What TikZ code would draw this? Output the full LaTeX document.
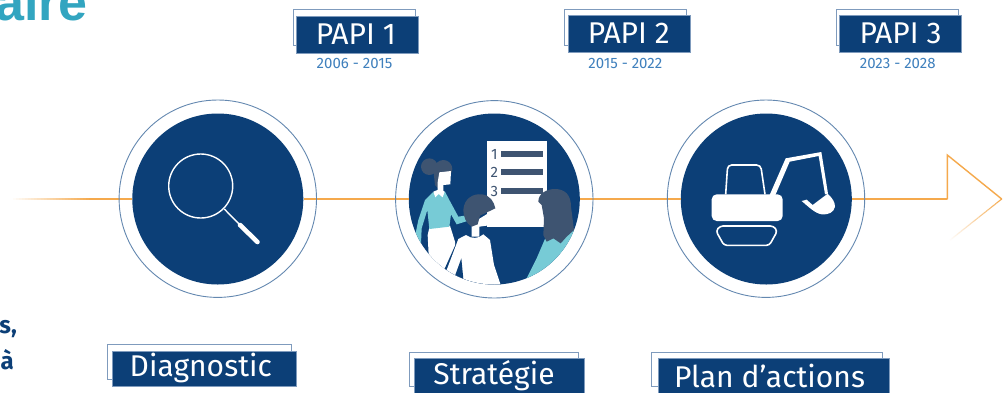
\documentclass[tikz,border=0pt]{standalone}
\usepackage{fontspec}
\setmainfont{Fira Sans}
\newfontfamily\headfont{Liberation Sans}
\usetikzlibrary{calc}
\definecolor{navy}{HTML}{0C3F77}
\definecolor{ringc}{HTML}{6488B0}
\definecolor{framec}{HTML}{7F9BBD}
\definecolor{lineor}{HTML}{F5A94C}
\definecolor{subc}{HTML}{3F80BD}
\definecolor{tealt}{HTML}{32A5C0}
\definecolor{slate}{HTML}{3E5471}
\definecolor{teals}{HTML}{77CBD6}
\tikzset{
  disc/.style={circle,fill=navy,draw=none,inner sep=0pt,minimum size=171pt},
  ringnode/.style={circle,draw=ringc,line width=0.9pt,inner sep=0pt,minimum size=197.4pt},
  backframe/.style={draw=framec,line width=1pt,fill=white},
  labelbox/.style={fill=navy,draw=framec,line width=0.3pt,text=white,inner sep=0pt},
  papi/.style={labelbox,font=\fontsize{30}{30}\selectfont,minimum width=122pt,minimum height=37pt,text height=22pt,text depth=2pt},
  stage/.style={labelbox,font=\fontsize{30}{30}\selectfont,text height=24pt,text depth=7.6pt},
  years/.style={text=subc,font=\fontsize{15}{15}\selectfont,inner sep=0pt},
  axis/.style={draw=lineor,line width=2.6pt},
  tipline/.style={draw=lineor,line width=1.4pt,line join=miter},
  white line/.style={draw=white,line width=1.6pt},
  iconzoom/.style={x=0.33333pt,y=-0.33333pt}
}
\begin{document}
\begin{tikzpicture}[x=1pt,y=-1pt]
\clip (0,0) rectangle (1008,392);
\fill[white] (0,0) rectangle (1008,392);

% clipped title and body fragments
\node[anchor=base east,inner sep=0pt,text=tealt,font=\headfont\bfseries\fontsize{52}{52}\selectfont] (title) at (88,20) {aire};
\node[anchor=base east,inner sep=0pt,text=navy,font=\bfseries\fontsize{24}{24}\selectfont] (frag1) at (17,333) {s,};
\node[anchor=base east,inner sep=0pt,text=navy,font=\bfseries\fontsize{24}{24}\selectfont] (frag2) at (14,369) {à};

% discs
\node[disc] (d1) at (217.8,199) {};
\node[disc] (d2) at (494.3,199) {};
\node[disc] (d3) at (766.3,199) {};

% timeline
\coordinate (start) at (10,199);
\coordinate (a1) at (947.3,199);
\coordinate (a2) at (947.3,155);
\coordinate (a3) at (1001.7,199);
\coordinate (a4) at (948,241.7);
\foreach \k in {0,...,39}{
  \pgfmathsetmacro\f{\k/40}
  \pgfmathsetmacro\g{(\k+1)/40}
  \pgfmathsetmacro\p{min(100,100*\k/26)}
  \draw[draw=lineor!\p!white,line width=1.3pt] ($(start)!\f!(d1.west)$) -- ($(start)!\g!(d1.west)$);
}
\draw[axis] (d1.east) -- (d2.west);
\draw[axis] (d2.east) -- (d3.west);
\draw[axis] (d3.east) -- (a1);
\draw[tipline,line cap=round] (a1) -- (a2) -- (a3);
\foreach \k in {0,...,29}{
  \pgfmathsetmacro\f{\k/30}
  \pgfmathsetmacro\g{(\k+1)/30}
  \pgfmathsetmacro\p{100-100*\k/29}
  \draw[draw=lineor!\p!white,line width=1.1pt] ($(a3)!\f!(a4)$) -- ($(a3)!\g!(a4)$);
}

% rings
\node[ringnode] (o1) at (217.8,198.7) {};
\node[ringnode] (o2) at (494.3,199.3) {};
\node[ringnode] (o3) at (766,198.7) {};

% magnifier
\draw[white,line width=1.4pt] (200.7,186) circle (32);
\draw[white,line width=1.4pt] (224.3,209) -- (239.3,224.3);
\draw[white,line width=4.6pt,line cap=round] (240,225) -- (257.5,242);

% team scene
\begin{scope}
\clip (d2) circle (85.5);
\begin{scope}[shift={(390,95)},iconzoom]
  \fill[white] (290,137) rectangle (472,397);
  \foreach \yy/\n in {177/1,232/2,289/3}{
    \node[text=slate,font=\fontsize{15}{15}\selectfont,inner sep=0pt] (num\n) at (313,\yy) {\n};
    \fill[slate] (332,\yy-9) rectangle (460,\yy+8);
  }
  % person 1
  \fill[white] (113,420) -- (118,398) -- (180,392) -- (195,440) -- (205,560) -- (120,560) -- cycle;
  \fill[teals] (128,292) -- (165,290) -- (178,315) -- (205,365) -- (235,360) -- (232,378) -- (200,388) -- (183,358) -- (178,395) -- (118,402) -- (112,345) -- (95,400) -- (92,470) -- (70,450) -- (85,375) -- (105,315) -- cycle;
  \fill[white] (130,290) -- (150,282) -- (164,290) -- (158,307) -- (146,297) -- (136,307) -- cycle;
  \fill[slate] (118,215) circle (25);
  \fill[slate] (160,222) circle (27);
  \fill[slate] (130,225) -- (150,225) -- (145,280) -- (135,270) -- cycle;
  \fill[white] (148,232) -- (183,228) -- (181,268) -- (160,270) -- (160,290) -- (143,290) -- (143,262) -- cycle;
  % person 2
  \fill[navy] (160,530) -- (205,430) -- (300,440) -- (340,580) -- (190,580) -- cycle;
  \fill[white] (228,420) .. controls (245,432) and (265,432) .. (280,418) -- (300,435) -- (312,510) -- (332,570) -- (190,575) -- (170,525) -- (205,432) -- cycle;
  \fill[navy] (194,545) -- (214,490) -- (220,552) -- cycle;
  \fill[white] (245,385) -- (303,350) -- (305,390) -- (268,395) -- (268,425) -- (245,425) -- cycle;
  \fill[slate] (220,345) .. controls (222,310) and (250,295) .. (275,298) .. controls (300,300) and (312,320) .. (316,340) -- (270,362) -- (263,388) -- (245,395) .. controls (228,385) and (220,365) .. (220,345) -- cycle;
  % person 3
  \fill[teals] (470,420) -- (550,405) -- (575,470) -- (500,570) -- (400,570) -- (440,490) -- cycle;
  \fill[slate] (445,320) .. controls (445,295) and (470,282) .. (495,282) .. controls (525,282) and (543,300) .. (543,335) -- (552,405) -- (530,425) -- (512,445) -- (490,430) -- (470,440) -- (460,420) -- (462,370) -- (455,330) -- cycle;
\end{scope}
\end{scope}

% excavator
\begin{scope}[shift={(660,95)},iconzoom]
  \fill[white,rounded corners=5pt] (155,298) rectangle (368,378);
  \draw[white line,rounded corners=4pt] (197,298) -- (203,210) -- (302,210) -- (315,298);
  \draw[white line,rounded corners=3pt] (180,393) -- (340,393) -- (352,408) -- (328,451) -- (192,451) -- (168,408) -- cycle;
  \fill[white] (318,325) -- (377,190) -- (484,171) -- (504,296) -- (495,298) -- (476,183) -- (389,200) -- (334,328) -- cycle;
  \fill[white] (425,318) -- (440,314) -- (458,330) -- (503,296) .. controls (518,310) and (525,322) .. (525,335) .. controls (522,352) and (505,360) .. (485,358) .. controls (465,355) and (445,335) .. (425,318) -- cycle;
\end{scope}

% PAPI labels
\draw[backframe] (293,9.3) rectangle (415,45);
\node[papi] (p1) at (357.3,34.2) {\hspace{-3pt}PAPI 1};
\node[years] (y1) at (354.5,63) {2006 - 2015};
\draw[backframe] (564.3,9) rectangle (686.7,45);
\node[papi] (p2) at (628.8,33.8) {PAPI 2};
\node[years] (y2) at (625.3,63) {2015 - 2022};
\draw[backframe] (836,9) rectangle (958,45);
\node[papi] (p3) at (900.5,33.8) {PAPI 3};
\node[years] (y3) at (897.7,63) {2023 - 2028};

% stage labels
\draw[backframe] (107.3,344.3) rectangle (291.7,379.3);
\node[stage,minimum width=184pt,minimum height=35pt] (s1) at (204.3,368.5) {\hspace{-7pt}Diagnostic};
\draw[backframe] (409.3,352.3) rectangle (578.7,386.7);
\node[stage,minimum width=169.4pt,minimum height=36pt] (s2) at (499,376.3) {\hspace{-10pt}Stratégie};
\draw[backframe] (651.3,352.3) rectangle (882.3,386.7);
\node[stage,minimum width=231pt,minimum height=37pt,text height=27pt,text depth=5.2pt] (s3) at (773.5,376.8) {\hspace{-8pt}Plan d’actions};
\end{tikzpicture}
\end{document}
